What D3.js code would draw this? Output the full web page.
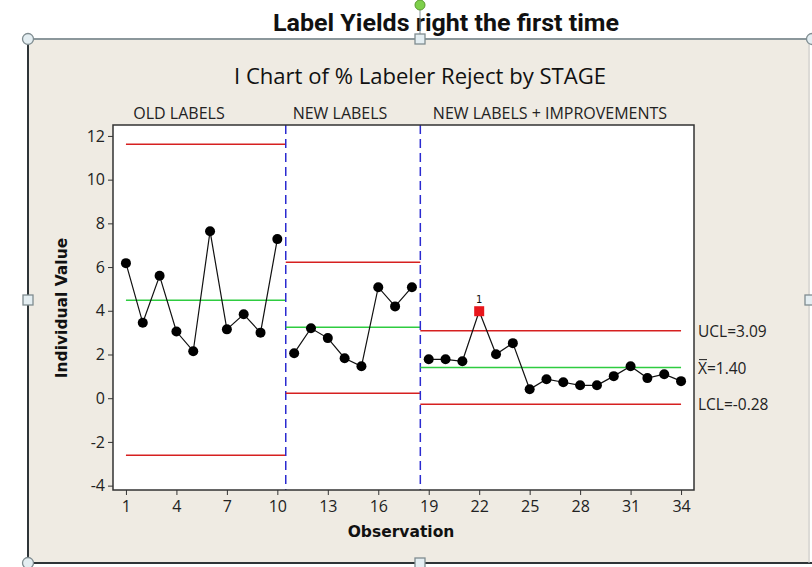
<!DOCTYPE html>
<html>
<head>
<meta charset="utf-8">
<script src="https://cdn.jsdelivr.net/npm/d3@7"></script>
<style>
  body { margin: 0; background: #fff; }
  svg { display: block; font-family: "DejaVu Sans", Verdana, sans-serif; }
</style>
</head>
<body>
<svg width="812" height="567"></svg>
<script>
// observations, one value per point
var obs = d3.range(1, 35);
var values = [6.18, 3.45, 5.6, 3.05, 2.15, 7.64, 3.15, 3.84, 3.0, 7.28,
              2.06, 3.2, 2.75, 1.83, 1.46, 5.08, 4.2, 5.08,
              1.78, 1.78, 1.69, 3.98, 2.01, 2.52, 0.41, 0.87, 0.73, 0.59, 0.59, 1.01, 1.46, 0.92, 1.1, 0.78];

// stages
var stageNames = ["OLD LABELS", "NEW LABELS", "NEW LABELS + IMPROVEMENTS"];
var stageStart = [1, 11, 19];
var stageEnd = [10, 18, 34];
var stageUCL = [11.62, 6.22, 3.09];
var stageMean = [4.48, 3.25, 1.40];
var stageLCL = [-2.61, 0.23, -0.28];

var xTicks = [1, 4, 7, 10, 13, 16, 19, 22, 25, 28, 31, 34];
var yTicks = [-4, -2, 0, 2, 4, 6, 8, 10, 12];
var flagged = [22];

var svg = d3.select("svg");

// slide-ish frame
svg.append("rect").attr("x", 28).attr("y", 39).attr("width", 782).attr("height", 524)
    .attr("fill", "#efebe3").attr("stroke", "none");
svg.append("line").attr("x1", 28).attr("x2", 812).attr("y1", 39).attr("y2", 39).attr("stroke", "#8b979b").attr("stroke-width", 2);
svg.append("line").attr("x1", 28).attr("x2", 28).attr("y1", 39).attr("y2", 563).attr("stroke", "#2e3538").attr("stroke-width", 2);
svg.append("line").attr("x1", 28).attr("x2", 812).attr("y1", 563).attr("y2", 563).attr("stroke", "#2e3538").attr("stroke-width", 2);
svg.append("line").attr("x1", 809).attr("x2", 809).attr("y1", 39).attr("y2", 563).attr("stroke", "#c9c9c9").attr("stroke-width", 1);

svg.append("text").attr("x", 446).attr("y", 31).attr("text-anchor", "middle")
    .attr("font-family", "Roboto, 'Liberation Sans', sans-serif").attr("font-weight", "bold")
    .attr("font-size", 23).attr("fill", "#111")
    .attr("textLength", 346).attr("lengthAdjust", "spacingAndGlyphs")
    .text("Label Yields right the first time");

var margin = { top: 125, right: 118, bottom: 77, left: 113 },
    width = 812 - margin.left - margin.right,
    height = 567 - margin.top - margin.bottom;

var x = d3.scaleLinear().domain([0.23, 34.77]).range([0, width]),
    y = d3.scaleLinear().domain([-4.2, 12.5]).range([height, 0]);

var g = svg.append("g").attr("transform", "translate(" + margin.left + "," + margin.top + ")");

g.append("rect").attr("width", width).attr("height", height).attr("fill", "#fff");

// titles
svg.append("text").attr("x", 420).attr("y", 84).attr("text-anchor", "middle")
    .attr("font-family", "'Open Sans', 'DejaVu Sans', sans-serif")
    .attr("font-size", 21).attr("fill", "#111")
    .attr("textLength", 372).attr("lengthAdjust", "spacingAndGlyphs")
    .text("I Chart of % Labeler Reject by STAGE");

var stageLabelX = [179, 340, 550];
stageNames.forEach(function (s, i) {
    svg.append("text").attr("x", stageLabelX[i]).attr("y", 119).attr("text-anchor", "middle")
        .attr("font-family", "'Open Sans', 'DejaVu Sans', sans-serif")
        .attr("font-size", 16).attr("fill", "#222").text(s);
});

// control lines per stage
stageNames.forEach(function (s, i) {
    var x0 = i == 0 ? x(stageStart[i]) : x(stageStart[i] - 0.5),
        x1 = i == 2 ? x(stageEnd[i]) : x(stageEnd[i] + 0.5);
    [[stageUCL[i], "#d62020"], [stageMean[i], "#2ecc40"], [stageLCL[i], "#d62020"]].forEach(function (l) {
        g.append("line").attr("x1", x0).attr("x2", x1).attr("y1", y(l[0])).attr("y2", y(l[0]))
            .attr("stroke", l[1]).attr("stroke-width", 1.5);
    });
    if (i < 2) {
        g.append("line").attr("x1", x(stageEnd[i] + 0.5)).attr("x2", x(stageEnd[i] + 0.5))
            .attr("y1", 0).attr("y2", height)
            .attr("stroke", "#2b2bd0").attr("stroke-width", 1.5).attr("stroke-dasharray", "9,5");
    }
});

// data line per stage
var line = d3.line().x(function (d) { return x(d[0]); }).y(function (d) { return y(d[1]); });
stageNames.forEach(function (s, i) {
    var pts = [];
    for (var k = stageStart[i]; k <= stageEnd[i]; k++) pts.push([k, values[k - 1]]);
    g.append("path").datum(pts).attr("d", line).attr("fill", "none").attr("stroke", "#111").attr("stroke-width", 1.2);
});

obs.forEach(function (o, i) {
    if (flagged.indexOf(o) >= 0) {
        g.append("rect").attr("x", x(o) - 5).attr("y", y(values[i]) - 5).attr("width", 10).attr("height", 10)
            .attr("fill", "#e8161c");
        g.append("text").attr("x", x(o)).attr("y", y(values[i]) - 8).attr("text-anchor", "middle")
            .attr("font-size", 10).attr("fill", "#111").text("1");
    } else {
        g.append("circle").attr("cx", x(o)).attr("cy", y(values[i])).attr("r", 5).attr("fill", "#000");
    }
});

// axes
var fmt = function (d) { return String(d); };
var xAxis = d3.axisBottom(x).tickValues(xTicks).tickSize(5).tickSizeOuter(0).tickFormat(fmt),
    yAxis = d3.axisLeft(y).tickValues(yTicks).tickSize(5).tickSizeOuter(0).tickFormat(fmt);

var gx = g.append("g").attr("transform", "translate(0," + height + ")").call(xAxis);
var gy = g.append("g").call(yAxis);
[gx, gy].forEach(function (a) {
    a.select(".domain").remove();
    a.selectAll("line").attr("stroke", "#333");
    a.selectAll("text").attr("font-size", 16).attr("fill", "#222")
        .attr("font-family", "'Open Sans', 'DejaVu Sans', sans-serif");
});
gx.selectAll("text").attr("dy", "0.9em");
g.append("rect").attr("width", width).attr("height", height).attr("fill", "none").attr("stroke", "#333").attr("stroke-width", 1.5);

svg.append("text").attr("x", 401).attr("y", 537).attr("text-anchor", "middle")
    .attr("font-weight", "bold").attr("font-size", 15.5).attr("fill", "#111").text("Observation");
svg.append("text").attr("transform", "translate(67,308) rotate(-90)").attr("text-anchor", "middle")
    .attr("font-weight", "bold").attr("font-size", 15.5).attr("fill", "#111").text("Individual Value");

// right-side labels for last stage
var rx = margin.left + width + 4;
var lblFont = "'Open Sans', 'DejaVu Sans', sans-serif";
svg.append("text").attr("x", rx).attr("y", margin.top + y(3.09) + 6).attr("font-family", lblFont)
    .attr("font-size", 15.5).attr("fill", "#222").text("UCL=3.09");
svg.append("text").attr("x", rx).attr("y", margin.top + y(1.40) + 6).attr("font-family", lblFont)
    .attr("font-size", 15.5).attr("fill", "#222").text("X=1.40");
svg.append("line").attr("x1", rx + 1).attr("x2", rx + 9).attr("y1", margin.top + y(1.40) - 8).attr("y2", margin.top + y(1.40) - 8)
    .attr("stroke", "#222").attr("stroke-width", 1);
svg.append("text").attr("x", rx).attr("y", margin.top + y(-0.28) + 6).attr("font-family", lblFont)
    .attr("font-size", 15.5).attr("fill", "#222").text("LCL=-0.28");

// selection handles
svg.append("line").attr("x1", 420).attr("x2", 420).attr("y1", 6).attr("y2", 39).attr("stroke", "#8b979b");
svg.append("circle").attr("cx", 420).attr("cy", 5).attr("r", 5).attr("fill", "#7ed04b").attr("stroke", "#5a9a30");
[[28, 39], [812, 39], [28, 563]].forEach(function (p) {
    svg.append("circle").attr("cx", p[0]).attr("cy", p[1]).attr("r", 5.5).attr("fill", "#e4eef2").attr("stroke", "#7f8c90").attr("stroke-width", 1.3);
});
[[420, 39], [28, 300], [420, 563], [810, 300]].forEach(function (p) {
    svg.append("rect").attr("x", p[0] - 5).attr("y", p[1] - 5).attr("width", 10).attr("height", 10)
        .attr("fill", "#e4eef2").attr("stroke", "#7f8c90").attr("stroke-width", 1.3);
});
</script>
</body>
</html>
